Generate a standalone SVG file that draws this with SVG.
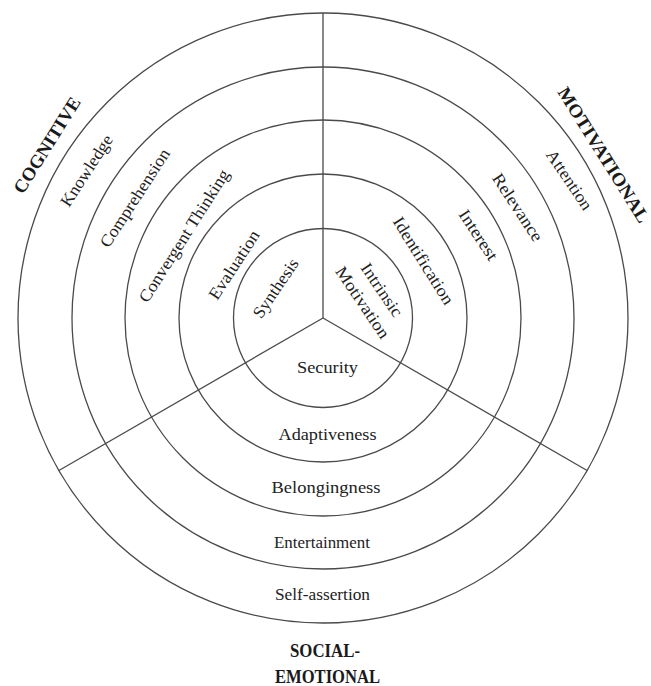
<svg xmlns="http://www.w3.org/2000/svg" width="651" height="686" viewBox="0 0 651 686">
  <style>
    .ring { fill: none; stroke: #4a4a4a; stroke-width: 1.3; }
    .div { stroke: #4a4a4a; stroke-width: 1.3; fill: none; }
    .lbl { font-family: "Liberation Serif", "Times New Roman", serif; font-size: 17px; fill: #222222; text-anchor: middle; }
    .cat { font-family: "Liberation Serif", "Times New Roman", serif; font-size: 18.5px; font-weight: bold; fill: #1a1a1a; text-anchor: middle; }
  </style>
  <rect x="0" y="0" width="651" height="686" fill="#ffffff"/>

  <g id="rings">
    <circle id="ring1" class="ring" cx="323" cy="318" r="89.5"/>
    <circle id="ring2" class="ring" cx="323" cy="318" r="144"/>
    <circle id="ring3" class="ring" cx="323" cy="318" r="198"/>
    <circle id="ring4" class="ring" cx="323" cy="318" r="251"/>
    <circle id="ring5" class="ring" cx="323" cy="318" r="305"/>
  </g>

  <g id="connectors">
    <line class="div" x1="323" y1="318" x2="323" y2="13"/>
    <line class="div" x1="323" y1="318" x2="58.9" y2="470.5"/>
    <line class="div" x1="323" y1="318" x2="587.1" y2="470.5"/>
  </g>

  <!-- Cognitive sector -->
  <g id="cognitive">
    <g id="label-cognitive" transform="translate(46.7,145) rotate(-58)"><text class="cat" x="0" y="6.5" textLength="110" lengthAdjust="spacingAndGlyphs">COGNITIVE</text></g>
    <g id="label-knowledge" transform="translate(86.7,170.7) rotate(-57)"><text class="lbl" x="0" y="5.5" textLength="82" lengthAdjust="spacingAndGlyphs">Knowledge</text></g>
    <g id="label-comprehension" transform="translate(135,198) rotate(-57)"><text class="lbl" x="0" y="5.5" textLength="114" lengthAdjust="spacingAndGlyphs">Comprehension</text></g>
    <g id="label-convergent" transform="translate(184.2,235.8) rotate(-57.5)"><text class="lbl" x="0" y="5.5" textLength="154" lengthAdjust="spacingAndGlyphs">Convergent Thinking</text></g>
    <g id="label-evaluation" transform="translate(234.2,265) rotate(-57)"><text class="lbl" x="0" y="5.5" textLength="79" lengthAdjust="spacingAndGlyphs">Evaluation</text></g>
    <g id="label-synthesis" transform="translate(275.8,288.3) rotate(-56)"><text class="lbl" x="0" y="5.5" textLength="68" lengthAdjust="spacingAndGlyphs">Synthesis</text></g>
  </g>

  <!-- Motivational sector -->
  <g id="motivational">
    <g id="label-motivational" transform="translate(557,92) rotate(58)"><text class="cat" x="0" y="0" style="text-anchor:start" textLength="156" lengthAdjust="spacingAndGlyphs">MOTIVATIONAL</text></g>
    <g id="label-attention" transform="translate(569.2,180) rotate(56)"><text class="lbl" x="0" y="5.5" textLength="69" lengthAdjust="spacingAndGlyphs">Attention</text></g>
    <g id="label-relevance" transform="translate(517.5,207.5) rotate(56.5)"><text class="lbl" x="0" y="5.5" textLength="78" lengthAdjust="spacingAndGlyphs">Relevance</text></g>
    <g id="label-interest" transform="translate(478.3,235) rotate(56.5)"><text class="lbl" x="0" y="5.5" textLength="57" lengthAdjust="spacingAndGlyphs">Interest</text></g>
    <g id="label-identification" transform="translate(423.3,260.8) rotate(58)"><text class="lbl" x="0" y="5.5" textLength="100" lengthAdjust="spacingAndGlyphs">Identification</text></g>
    <g id="label-intrinsic-motivation">
      <g transform="translate(381.7,290) rotate(56)"><text class="lbl" x="0" y="5.5" textLength="61" lengthAdjust="spacingAndGlyphs">Intrinsic</text></g>
      <g transform="translate(362.5,302.5) rotate(56)"><text class="lbl" x="0" y="5.5" textLength="83" lengthAdjust="spacingAndGlyphs">Motivation</text></g>
    </g>
  </g>

  <!-- Social-emotional sector -->
  <g id="social-emotional">
    <g id="label-security"><text class="lbl" x="327.5" y="373" textLength="61" lengthAdjust="spacingAndGlyphs">Security</text></g>
    <g id="label-adaptiveness"><text class="lbl" x="327.5" y="440" textLength="98" lengthAdjust="spacingAndGlyphs">Adaptiveness</text></g>
    <g id="label-belongingness"><text class="lbl" x="326" y="493" textLength="109" lengthAdjust="spacingAndGlyphs">Belongingness</text></g>
    <g id="label-entertainment"><text class="lbl" x="322" y="548" textLength="96" lengthAdjust="spacingAndGlyphs">Entertainment</text></g>
    <g id="label-self-assertion"><text class="lbl" x="322.5" y="600" textLength="95" lengthAdjust="spacingAndGlyphs">Self-assertion</text></g>
    <g id="label-social-emotional">
      <text class="cat" x="325" y="657" textLength="70" lengthAdjust="spacingAndGlyphs">SOCIAL-</text>
      <text class="cat" x="327.5" y="683" textLength="105" lengthAdjust="spacingAndGlyphs">EMOTIONAL</text>
    </g>
  </g>
</svg>
